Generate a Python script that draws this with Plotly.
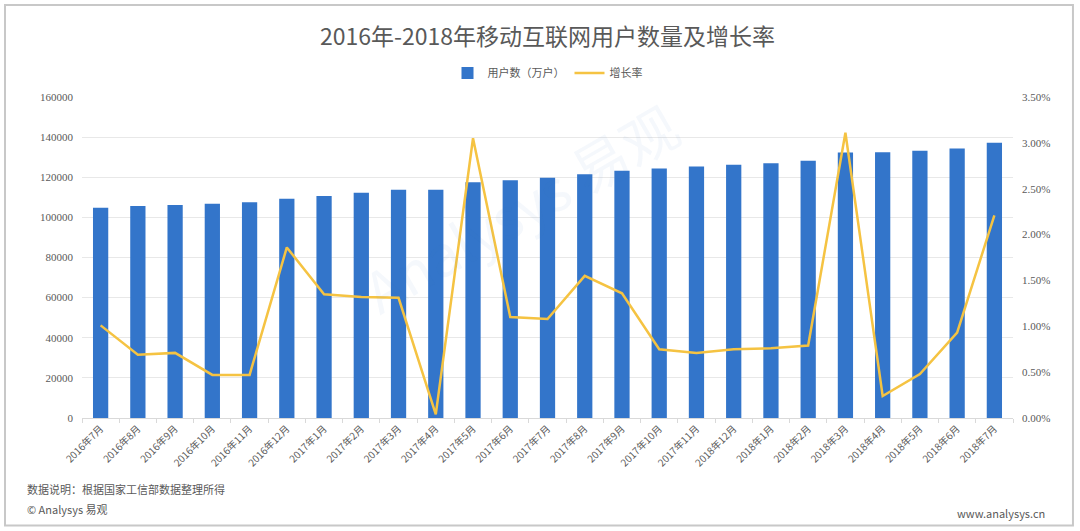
import plotly.graph_objects as go

# --- data ---
months = [
    "2016年7月", "2016年8月", "2016年9月", "2016年10月", "2016年11月", "2016年12月",
    "2017年1月", "2017年2月", "2017年3月", "2017年4月", "2017年5月", "2017年6月",
    "2017年7月", "2017年8月", "2017年9月", "2017年10月", "2017年11月", "2018年12月",
    "2018年1月", "2018年2月", "2018年3月", "2018年4月", "2018年5月", "2018年6月",
    "2018年7月",
]
users = [
    104800, 105700, 106200, 106800, 107500, 109300,
    110700, 112300, 113800, 113800, 117500, 118500,
    119800, 121500, 123300, 124300, 125300, 126200,
    127000, 128200, 132300, 132500, 133200, 134300,
    137200,
]
growth = [
    1.01, 0.69, 0.71, 0.47, 0.47, 1.86,
    1.35, 1.32, 1.31, 0.04, 3.05, 1.10,
    1.08, 1.55, 1.36, 0.75, 0.71, 0.75,
    0.76, 0.79, 3.11, 0.24, 0.48, 0.93,
    2.21,
]
growth_frac = [g / 100 for g in growth]

left_ticks = [0, 20000, 40000, 60000, 80000, 100000, 120000, 140000, 160000]
right_ticks = [0, 0.005, 0.01, 0.015, 0.02, 0.025, 0.03, 0.035]

BLUE = "#3375CA"
YELLOW = "#F5C342"
GREY = "#595959"
CJK = "Noto Sans CJK SC"

fig = go.Figure()

fig.add_trace(
    go.Bar(
        x=months,
        y=users,
        name="用户数（万户）",
        marker=dict(color=BLUE, line=dict(width=0)),
        yaxis="y",
    )
)

fig.add_trace(
    go.Scatter(
        x=months,
        y=growth_frac,
        name="增长率",
        mode="lines",
        line=dict(color=YELLOW, width=2.5),
        yaxis="y2",
    )
)

# faint watermark
fig.add_annotation(
    text="Analysys 易观",
    xref="paper", yref="paper",
    x=0.47, y=0.66,
    showarrow=False,
    textangle=-30,
    font=dict(family=CJK, size=56, color="rgba(51,117,202,0.05)"),
)

# footer texts
fig.add_annotation(
    text="数据说明：根据国家工信部数据整理所得",
    xref="paper", yref="paper",
    x=-0.061, y=-0.22, xanchor="left", yanchor="middle",
    showarrow=False,
    font=dict(family=CJK, size=11, color=GREY),
)
fig.add_annotation(
    text="© Analysys 易观",
    xref="paper", yref="paper",
    x=-0.061, y=-0.283, xanchor="left", yanchor="middle",
    showarrow=False,
    font=dict(family=CJK, size=11, color=GREY),
)
fig.add_annotation(
    text="www.analysys.cn",
    xref="paper", yref="paper",
    x=1.037, y=-0.295, xanchor="right", yanchor="middle",
    showarrow=False,
    font=dict(family=CJK, size=11, color=GREY),
)

# outer frame
fig.add_shape(
    type="rect",
    xref="paper", yref="paper",
    x0=-0.0827, x1=1.0644, y0=-0.335, y1=1.2866,
    line=dict(color="#c8c8c8", width=2),
    fillcolor="rgba(0,0,0,0)",
    layer="below",
)

fig.update_layout(
    width=1080,
    height=531,
    margin=dict(l=82, r=67, t=97, b=113, autoexpand=False),
    plot_bgcolor="white",
    paper_bgcolor="white",
    bargap=0.59,
    title=dict(
        text="2016年-2018年移动互联网用户数量及增长率",
        x=0.5, xref="paper", xanchor="center",
        y=0.930, yanchor="middle",
        font=dict(family=CJK, size=23, color=GREY),
    ),
    legend=dict(
        orientation="h",
        x=0.5, xanchor="center",
        y=1.075, yanchor="middle",
        font=dict(family=CJK, size=11, color=GREY),
        bgcolor="rgba(0,0,0,0)",
        itemwidth=30,
    ),
    xaxis=dict(
        tickangle=-45,
        tickfont=dict(family=CJK, size=10, color=GREY),
        showline=True,
        linecolor="#d9d9d9",
        linewidth=1,
        ticks="outside",
        ticklen=4,
        tickcolor="#d9d9d9",
        tickson="boundaries",
        showgrid=False,
        automargin=False,
    ),
    yaxis=dict(
        range=[0, 160000],
        tickvals=left_ticks,
        tickformat="d",
        tickfont=dict(family="Liberation Serif", size=11, color=GREY),
        showgrid=True,
        gridcolor="#e8e8e8",
        gridwidth=1,
        zeroline=False,
        ticklabelstandoff=8,
        automargin=False,
    ),
    yaxis2=dict(
        overlaying="y",
        side="right",
        range=[0, 0.035],
        tickvals=right_ticks,
        tickformat=".2%",
        tickfont=dict(family="Liberation Serif", size=11, color=GREY),
        showgrid=False,
        zeroline=False,
        ticklabelstandoff=8,
        automargin=False,
    ),
)

# drop the default page margin so the figure sits at the window's corner
fig.write_html(
    "out.html",
    config={"displayModeBar": False},
    post_script="document.body.style.margin='0';",
)
